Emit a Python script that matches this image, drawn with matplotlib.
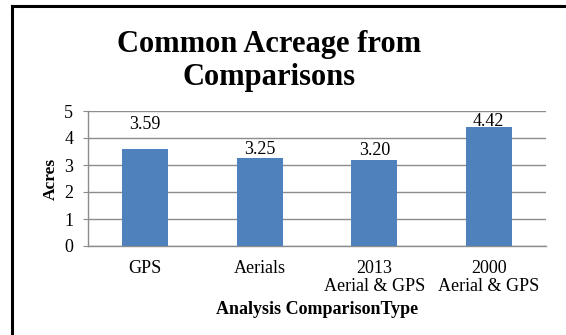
import numpy as np
import matplotlib
matplotlib.use("Agg")
import matplotlib.pyplot as plt
from matplotlib.lines import Line2D

categories = ["GPS", "Aerials", "2013\nAerial & GPS", "2000\nAerial & GPS"]
acres = [3.59, 3.25, 3.20, 4.42]
value_labels = ["3.59", "3.25", "3.20", "4.42"]

plt.rcParams['font.family'] = ['Liberation Serif', 'DejaVu Serif']

fig = plt.figure(figsize=(5.66, 3.35), dpi=100)
W, H = 566, 335
ax = fig.add_axes([88 / W, 1 - 246 / H, (546 - 88) / W, (246 - 111) / H])

x = np.arange(len(categories))
ax.bar(x, acres, width=0.4, color="#4f81bd", zorder=3)

# labels float above the bars, not all at the same distance (as in the original)
offsets = [18, 6.6, 6.7, 3.6]
for xi, v, lab, off in zip(x, acres, value_labels, offsets):
    ax.annotate(lab, (xi, v), xytext=(0, off), textcoords="offset points",
                ha="center", va="center", fontsize=13)

ax.set_xlim(-0.5, len(categories) - 0.5)
ax.set_ylim(0, 5)
ax.set_yticks(range(6))
ax.yaxis.grid(True, color="#8c8c8c", linewidth=1)
ax.set_axisbelow(True)
for s in ["top", "right"]:
    ax.spines[s].set_visible(False)
for s in ["bottom", "left"]:
    ax.spines[s].set_color("#8c8c8c")
    ax.spines[s].set_linewidth(1)
ax.set_xticks(x)
ax.set_xticklabels(categories, linespacing=1.05)
ax.tick_params(axis="x", length=0, labelsize=13, pad=10)
ax.tick_params(axis="y", length=3.6, color="#8c8c8c", labelsize=13, pad=7)

ax.set_ylabel("Acres", fontsize=12.5, fontweight="bold", labelpad=4)
ax.set_xlabel("Analysis ComparisonType", fontsize=13, fontweight="bold", labelpad=5)

fig.text(269 / W, 1 - 61 / H, "Common Acreage from\nComparisons", ha="center", va="center",
         fontsize=22, fontweight="bold", linespacing=1.15)

# outer frame (left and top edges)
fig.add_artist(Line2D([12 / W, 12 / W], [0, 1 - 6 / H], transform=fig.transFigure,
                      color="black", linewidth=2.2))
fig.add_artist(Line2D([12 / W, 1], [1 - 6 / H, 1 - 6 / H], transform=fig.transFigure,
                      color="black", linewidth=2.2))

fig.savefig("out.png", dpi=100)
